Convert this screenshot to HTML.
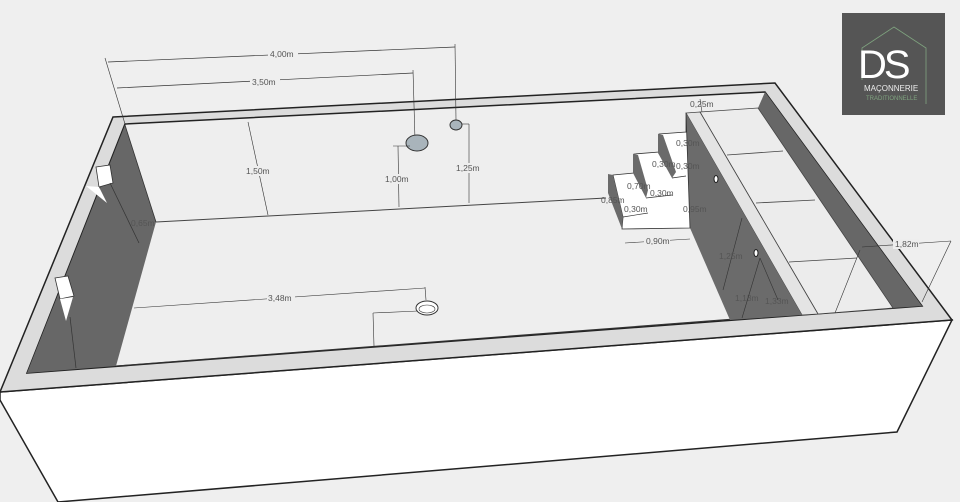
<!DOCTYPE html>
<html><head><meta charset="utf-8"><style>
html,body{margin:0;padding:0;background:#efefef;}
svg{display:block}
text{font-family:"Liberation Sans",sans-serif;font-size:8.5px;fill:#555}
</style></head><body>
<svg width="960" height="502" viewBox="0 0 960 502">
<rect width="960" height="502" fill="#efefef"/>
<!-- front face -->
<polygon points="0,392 952,320 897,432 58,502 0,400" fill="#fff" stroke="#222" stroke-width="1.5"/>
<!-- rim -->
<polygon points="113,117 775,83 952,320 0,392" fill="#dcdcdc" stroke="#222" stroke-width="1.5"/>
<!-- inner pool -->
<polygon points="125,124 765,92 922,306 27,373" fill="#eeeeee" stroke="#222" stroke-width="1.5"/>
<!-- left dark wall -->
<polygon points="125,125 156,222 116,366 27,373" fill="#676767"/>
<line x1="156" y1="222" x2="606" y2="198" stroke="#444" stroke-width="1"/>
<line x1="116" y1="366" x2="734" y2="319" stroke="#333" stroke-width="1"/>
<!-- left wall skimmer blocks -->
<polygon points="96,167 110,165 113,183 99,187" fill="#fff" stroke="#333" stroke-width="0.8"/>
<polygon points="86,186 99,187 107,203" fill="#fff"/>
<line x1="110" y1="183" x2="139" y2="243" stroke="#333" stroke-width="0.7"/>
<polygon points="55,278 68,276 74,296 60,299" fill="#fff" stroke="#333" stroke-width="0.8"/>
<polygon points="60,299 73,297 66,321" fill="#fff"/>
<line x1="70" y1="317" x2="76" y2="368" stroke="#333" stroke-width="0.7"/>
<line x1="125" y1="125" x2="156" y2="222" stroke="#333" stroke-width="0.8"/>
<text x="131" y="226">0,65m</text>
<!-- right dark wall -->
<polygon points="765,92 922,306 893,308 758,108" fill="#676767"/>
<!-- shelf -->
<polygon points="700,112 758,108 893,308 818,314" fill="#ececec" stroke="#444" stroke-width="0.8"/>
<line x1="727" y1="155" x2="783" y2="151" stroke="#444" stroke-width="0.8"/>
<line x1="756" y1="203" x2="815" y2="200" stroke="#444" stroke-width="0.8"/>
<line x1="789" y1="262" x2="857" y2="258" stroke="#444" stroke-width="0.8"/>
<polygon points="686,113 700,112 818,314 802,315" fill="#e4e4e4" stroke="#444" stroke-width="0.8"/>
<!-- dark wall under shelf -->
<polygon points="686,113 802,315 730,320 690,228" fill="#6b6b6b"/>
<!-- stairs -->
<polygon points="613,175 634,173 634,154 659,152 659,134 686,132 686,113 690,228 622,229 623,217" fill="#fff" stroke="#333" stroke-width="0.8"/>
<polygon points="608,174 613,175 623,217 622,229 608,193" fill="#6a6a6a"/>
<polygon points="633,154 638,155 648,190 646,198 633,173" fill="#6a6a6a"/>
<polygon points="658,134 663,135 676,172 672,178 658,153" fill="#6a6a6a"/>
<line x1="623" y1="217" x2="648" y2="213" stroke="#333" stroke-width="0.7"/>
<line x1="646" y1="198" x2="672" y2="195" stroke="#333" stroke-width="0.7"/>
<line x1="672" y1="178" x2="686" y2="176" stroke="#333" stroke-width="0.7"/>
<text x="601" y="203" font-size="8">0,85m</text>
<text x="624" y="212" font-size="8">0,30m</text>
<text x="627" y="189" font-size="8">0,70m</text>
<text x="650" y="196" font-size="8">0,30m</text>
<text x="652" y="167" font-size="8">0,30m</text>
<text x="676" y="169" font-size="8">0,30m</text>
<text x="676" y="146" font-size="8">0,30m</text>
<text x="683" y="212" font-size="8">0,95m</text>
<ellipse cx="716" cy="179" rx="2" ry="3.5" fill="#fff" stroke="#222"/>
<ellipse cx="756" cy="253" rx="2" ry="3.5" fill="#fff" stroke="#222"/>
<!-- wall dims -->
<line x1="742" y1="218" x2="723" y2="290" stroke="#333" stroke-width="0.6"/>
<text x="719" y="259">1,25m</text>
<text x="735" y="301">1,13m</text>
<text x="765" y="304">1,33m</text>
<line x1="760" y1="258" x2="742" y2="318" stroke="#333" stroke-width="0.6"/>
<line x1="760" y1="258" x2="778" y2="300" stroke="#333" stroke-width="0.6"/>
<!-- 0,90 -->
<line x1="625" y1="243" x2="690" y2="239" stroke="#333" stroke-width="0.6"/>
<rect x="644" y="236" width="26" height="10" fill="#eeeeee"/>
<text x="646" y="244">0,90m</text>
<!-- 0,25 -->
<line x1="700" y1="99" x2="702" y2="112" stroke="#333" stroke-width="0.6"/>
<text x="690" y="107">0,25m</text>
<!-- 1,82 -->
<line x1="862" y1="247" x2="951" y2="241" stroke="#333" stroke-width="0.6"/>
<line x1="951" y1="241" x2="922" y2="302" stroke="#333" stroke-width="0.6"/>
<line x1="860" y1="250" x2="835" y2="313" stroke="#333" stroke-width="0.6"/>
<rect x="893" y="239" width="26" height="10" fill="#eeeeee"/>
<text x="895" y="247">1,82m</text>
<!-- top dims -->
<line x1="108" y1="62" x2="455" y2="47" stroke="#333" stroke-width="0.7"/>
<line x1="105" y1="58" x2="125" y2="124" stroke="#333" stroke-width="0.6"/>
<line x1="455" y1="44" x2="456" y2="120" stroke="#333" stroke-width="0.6"/>
<rect x="268" y="49" width="30" height="10" fill="#efefef"/>
<text x="270" y="57">4,00m</text>
<line x1="117" y1="88" x2="413" y2="73" stroke="#333" stroke-width="0.7"/>
<line x1="413" y1="70" x2="415" y2="140" stroke="#333" stroke-width="0.6"/>
<rect x="250" y="77" width="30" height="10" fill="#efefef"/>
<text x="252" y="85">3,50m</text>
<ellipse cx="456" cy="125" rx="6" ry="5" fill="#a9b4bb" stroke="#333"/>
<ellipse cx="417" cy="143" rx="11" ry="8" fill="#a9b4bb" stroke="#333"/>
<line x1="248" y1="122" x2="268" y2="215" stroke="#333" stroke-width="0.6"/>
<rect x="245" y="166" width="26" height="10" fill="#eeeeee"/>
<text x="246" y="174">1,50m</text>
<line x1="393" y1="146" x2="410" y2="146" stroke="#333" stroke-width="0.6"/>
<line x1="398" y1="146" x2="399" y2="207" stroke="#333" stroke-width="0.6"/>
<rect x="384" y="174" width="28" height="10" fill="#eeeeee"/>
<text x="385" y="182">1,00m</text>
<line x1="462" y1="124" x2="469" y2="124" stroke="#333" stroke-width="0.6"/>
<line x1="469" y1="124" x2="469" y2="203" stroke="#333" stroke-width="0.6"/>
<rect x="455" y="163" width="28" height="10" fill="#eeeeee"/>
<text x="456" y="171">1,25m</text>
<!-- 3,48 -->
<line x1="134" y1="308" x2="425" y2="288" stroke="#333" stroke-width="0.6"/>
<line x1="425" y1="287" x2="426" y2="300" stroke="#333" stroke-width="0.6"/>
<rect x="267" y="293" width="28" height="10" fill="#eeeeee"/>
<text x="268" y="301">3,48m</text>
<ellipse cx="427" cy="308" rx="11" ry="7" fill="#fff" stroke="#333"/>
<ellipse cx="427" cy="309" rx="8" ry="4" fill="none" stroke="#333" stroke-width="0.6"/>
<line x1="373" y1="313" x2="418" y2="311" stroke="#333" stroke-width="0.6"/>
<line x1="373" y1="313" x2="374" y2="346" stroke="#333" stroke-width="0.6"/>
<!-- logo -->
<rect x="842" y="13" width="103" height="102" fill="#555"/>
<polyline points="862,80 862,48 894,27 926,48 926,104" fill="none" stroke="#7fa37f" stroke-width="0.8"/>
<text x="858" y="78" style="font-size:40px;fill:#fff;font-weight:100;letter-spacing:-3px">DS</text>
<text x="864" y="91" style="font-size:8px;fill:#eee">MAÇONNERIE</text>
<text x="866" y="100" style="font-size:6px;fill:#7fa37f">TRADITIONNELLE</text>
</svg>
</body></html>
